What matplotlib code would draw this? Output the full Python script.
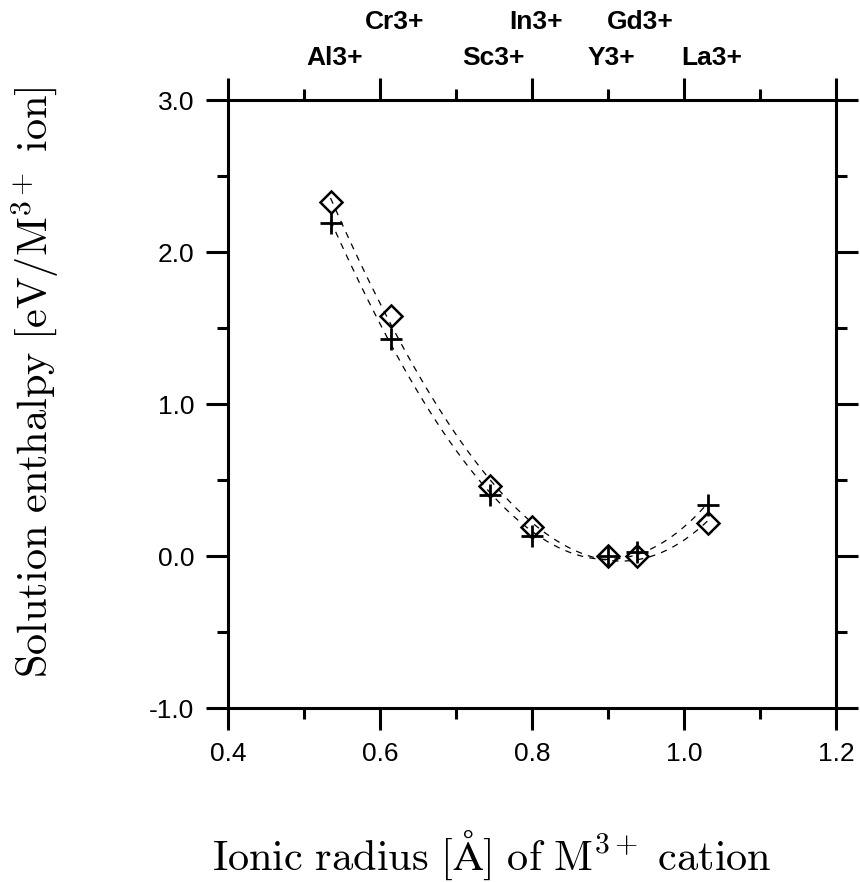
import numpy as np
import matplotlib
matplotlib.use("Agg")
import matplotlib.pyplot as plt
from matplotlib.ticker import MultipleLocator

plt.rcParams['mathtext.fontset'] = 'cm'
plt.rcParams['font.family'] = ['Liberation Sans', 'DejaVu Sans']

# ionic radii (Angstrom) of the M3+ cations
ions = ['Al3+', 'Cr3+', 'Sc3+', 'In3+', 'Y3+', 'Gd3+', 'La3+']
radius = [0.535, 0.615, 0.745, 0.800, 0.900, 0.938, 1.032]
# solution enthalpies, eV per M3+ ion
enthalpy_diamond = [2.33, 1.58, 0.465, 0.19, 0.0, 0.0, 0.22]
enthalpy_plus = [2.19, 1.43, 0.40, 0.13, 0.0, 0.03, 0.34]
label_row = [0, 1, 0, 1, 0, 1, 0]   # 0 = lower row, 1 = upper row

fig = plt.figure(figsize=(8.6, 8.82), dpi=100)
ax = fig.add_axes([0.265, 0.197, 0.707, 0.6895])

x = np.array(radius)
xs = np.linspace(x.min(), x.max(), 200)
for vals in (enthalpy_diamond, enthalpy_plus):
    coef = np.polyfit(x, vals, 3)
    ax.plot(xs, np.polyval(coef, xs), color='black', lw=0.9,
            dashes=(5, 5))

ax.plot(radius, enthalpy_diamond, linestyle='none', marker='D', ms=11,
        mfc='none', mec='black', mew=1.8)
ax.plot(radius, enthalpy_plus, linestyle='none', marker='+', ms=16,
        mec='black', mew=2.0)

ax.set_xlim(0.4, 1.2)
ax.set_ylim(-1.0, 3.0)
ax.xaxis.set_major_locator(MultipleLocator(0.2))
ax.xaxis.set_minor_locator(MultipleLocator(0.1))
ax.yaxis.set_major_locator(MultipleLocator(1.0))
ax.yaxis.set_minor_locator(MultipleLocator(0.5))
ax.xaxis.set_major_formatter(plt.FuncFormatter(lambda v, p: f'{v:.1f}'))
ax.yaxis.set_major_formatter(plt.FuncFormatter(lambda v, p: f'{v:.1f}'))

for s in ax.spines.values():
    s.set_linewidth(2.2)
ax.tick_params(which='both', direction='out', width=2.2,
               top=True, right=True, labelsize=19, pad=8)
ax.tick_params(which='major', length=16)
ax.tick_params(which='minor', length=8)

tr = ax.get_xaxis_transform()
for name, r, row in zip(ions, radius, label_row):
    ax.text(r + 0.005, 1.069 + 0.059 * row, name, transform=tr, ha='center',
            va='center', fontsize=19, fontweight='bold')

xl = ax.set_xlabel(r'$\mathrm{Ionic\ radius\ [\AA]\ of\ M^{3+}\ cation}$',
                   fontsize=30.5)
xl.set_va('center')
ax.xaxis.set_label_coords(0.434, -0.242)
yl = ax.set_ylabel(r'$\mathrm{Solution\ enthalpy\ [eV/M^{3+}\ ion]}$',
                   fontsize=30.5)
yl.set_va('center')
ax.yaxis.set_label_coords(-0.317, 0.536)

fig.savefig('out.png', dpi=100)
